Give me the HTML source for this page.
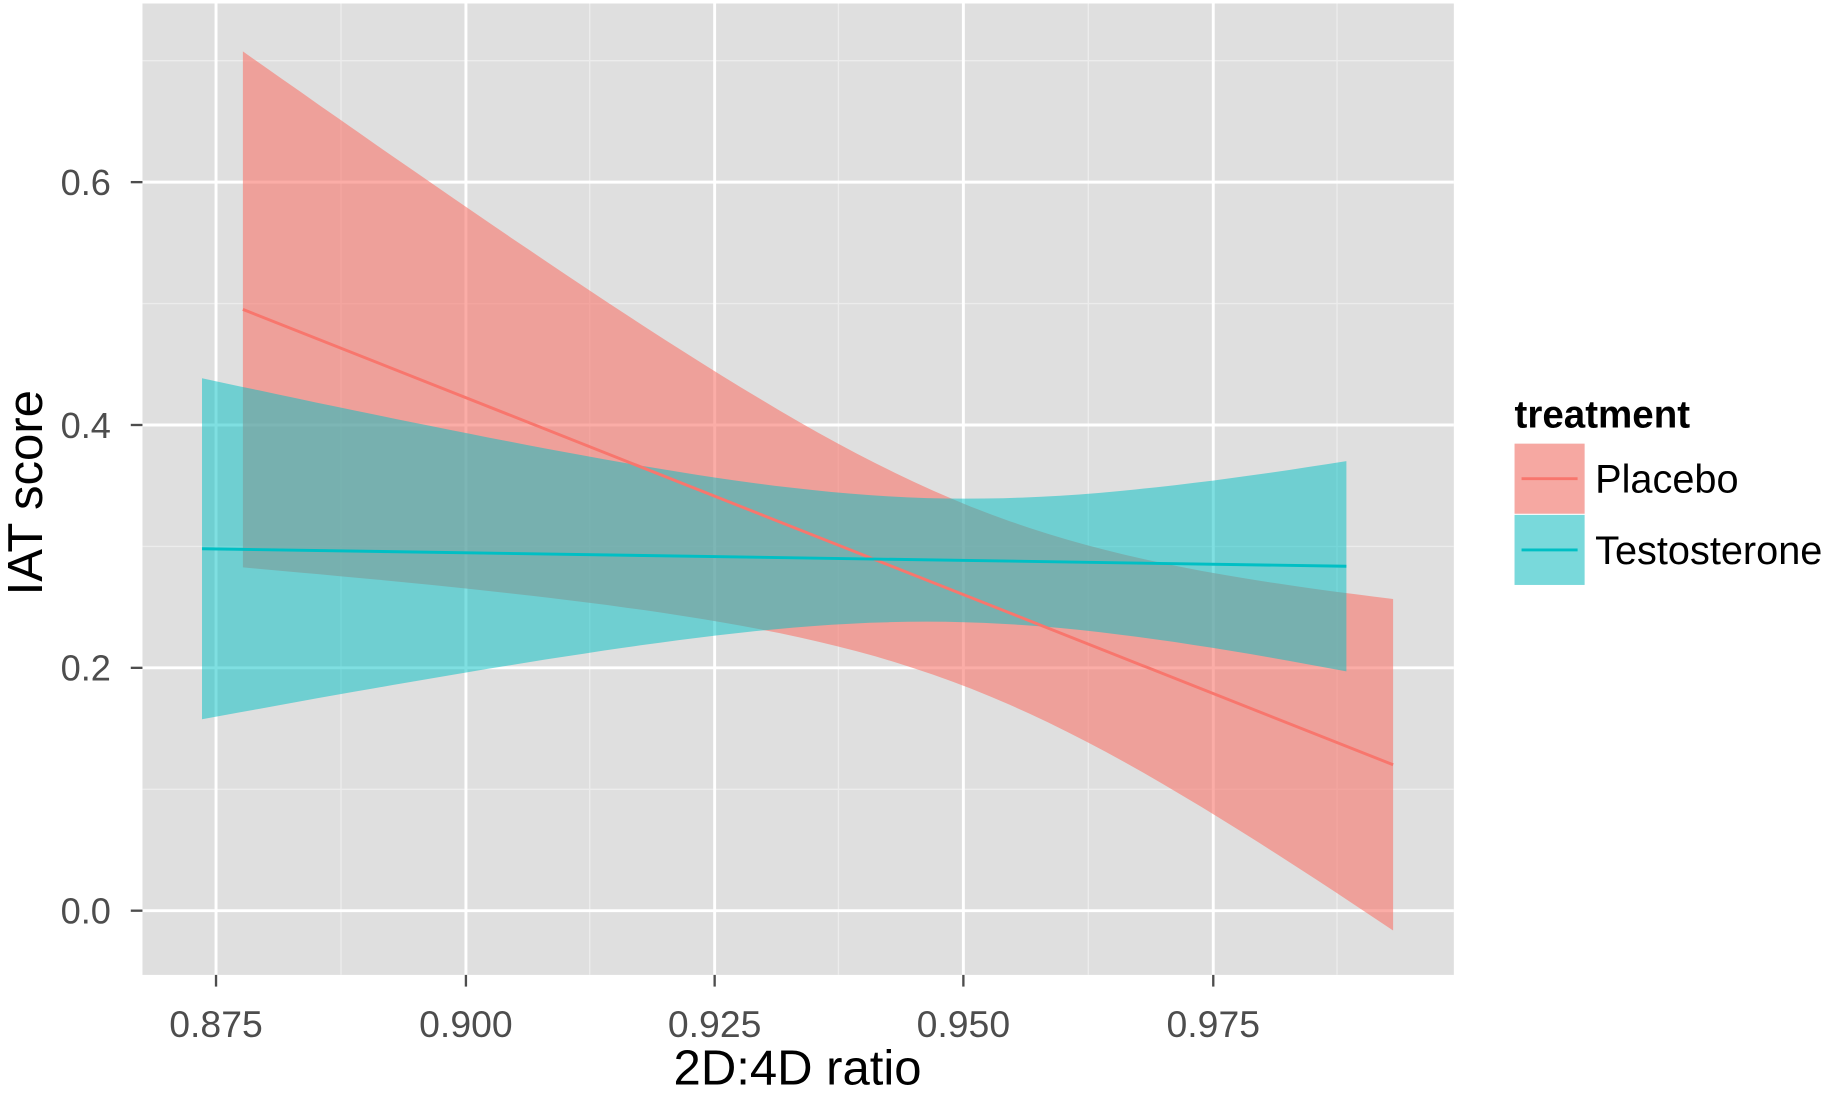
<!DOCTYPE html>
<html><head><meta charset="utf-8"><style>html,body{margin:0;padding:0;background:#fff}svg{display:block}</style></head>
<body>
<svg id="s" width="1831" height="1094" viewBox="0 0 1568 937" preserveAspectRatio="none" xmlns="http://www.w3.org/2000/svg" font-family="'Liberation Sans', sans-serif">
<rect x="122" y="3" width="1123" height="832" fill="#dfdfdf"/>
<g stroke="#ececec" stroke-width="1.2">
<line x1="292" y1="3" x2="292" y2="835"/><line x1="505" y1="3" x2="505" y2="835"/><line x1="718" y1="3" x2="718" y2="835"/><line x1="932" y1="3" x2="932" y2="835"/><line x1="1145" y1="3" x2="1145" y2="835"/>
<line x1="122" y1="52" x2="1245" y2="52"/><line x1="122" y1="260" x2="1245" y2="260"/><line x1="122" y1="468" x2="1245" y2="468"/><line x1="122" y1="676" x2="1245" y2="676"/>
</g>
<g stroke="#fff" stroke-width="2.5">
<line x1="185" y1="3" x2="185" y2="835"/><line x1="399" y1="3" x2="399" y2="835"/><line x1="612" y1="3" x2="612" y2="835"/><line x1="825" y1="3" x2="825" y2="835"/><line x1="1039" y1="3" x2="1039" y2="835"/>
<line x1="122" y1="156" x2="1245" y2="156"/><line x1="122" y1="364" x2="1245" y2="364"/><line x1="122" y1="572" x2="1245" y2="572"/><line x1="122" y1="780" x2="1245" y2="780"/>
</g>
<path id="pb" fill="#F8766D" fill-opacity="0.6"/>
<path id="tb" fill="#00BFC4" fill-opacity="0.5"/>
<line x1="208" y1="265" x2="1193" y2="655" stroke="#F8766D" stroke-width="2.5"/>
<line x1="173" y1="470" x2="1153" y2="485" stroke="#00BFC4" stroke-width="2.5"/>
<g fill="#4d4d4d" font-size="31" text-anchor="end">
<text x="95" y="167">0.6</text><text x="95" y="375">0.4</text><text x="95" y="583">0.2</text><text x="95" y="791">0.0</text>
</g>
<g stroke="#4d4d4d" stroke-width="2"><line x1="112" y1="156" x2="122" y2="156"/><line x1="112" y1="364" x2="122" y2="364"/><line x1="112" y1="572" x2="122" y2="572"/><line x1="112" y1="780" x2="122" y2="780"/>
<line x1="185" y1="835" x2="185" y2="845"/><line x1="399" y1="835" x2="399" y2="845"/><line x1="612" y1="835" x2="612" y2="845"/><line x1="825" y1="835" x2="825" y2="845"/><line x1="1039" y1="835" x2="1039" y2="845"/></g>
<g fill="#4d4d4d" font-size="32" text-anchor="middle">
<text x="185" y="888">0.875</text><text x="399" y="888">0.900</text><text x="612" y="888">0.925</text><text x="825" y="888">0.950</text><text x="1039" y="888">0.975</text>
</g>
<text x="683" y="929" font-size="42" text-anchor="middle" fill="#000">2D:4D ratio</text>
<text transform="translate(36,422) rotate(-90)" font-size="42" text-anchor="middle" fill="#000">IAT score</text>
<text x="1297" y="366" font-size="33" font-weight="bold" fill="#000">treatment</text>
<rect x="1297" y="380" width="60" height="60" fill="#f2f2f2"/>
<rect x="1297" y="380" width="60" height="60" fill="#F8766D" fill-opacity="0.6"/>
<line x1="1303" y1="410" x2="1351" y2="410" stroke="#F8766D" stroke-width="2.5"/>
<rect x="1297" y="441" width="60" height="60" fill="#f2f2f2"/>
<rect x="1297" y="441" width="60" height="60" fill="#00BFC4" fill-opacity="0.5"/>
<line x1="1303" y1="471" x2="1351" y2="471" stroke="#00BFC4" stroke-width="2.5"/>
<text x="1366" y="422" font-size="34" fill="#000">Placebo</text>
<text x="1366" y="483" font-size="34" fill="#000">Testosterone</text>
</svg>
<script>
function band(id,x1,x2,ly1,ly2,pts){
 var q=function(x){var r=0;for(var i=0;i<3;i++){var t=pts[i][1]*pts[i][1];for(var j=0;j<3;j++)if(j!=i)t*=(x-pts[j][0])/(pts[i][0]-pts[j][0]);r+=t;}return Math.sqrt(Math.max(r,1));};
 var up=[],lo=[];
 for(var k=0;k<=60;k++){var x=x1+(x2-x1)*k/60;var c=ly1+(ly2-ly1)*(x-x1)/(x2-x1);var h=q(x);up.push(x.toFixed(1)+","+(c-h).toFixed(1));lo.unshift(x.toFixed(1)+","+(c+h).toFixed(1));}
 document.getElementById(id).setAttribute("d","M"+up.join(" L")+" L"+lo.join(" L")+" Z");
}
band("pb",208,1193,265,655,[[208,221],[825,78],[1193,142]]);
band("tb",173,1153,470,485,[[173,146],[650,63],[1153,90]]);
</script>
</body></html>
